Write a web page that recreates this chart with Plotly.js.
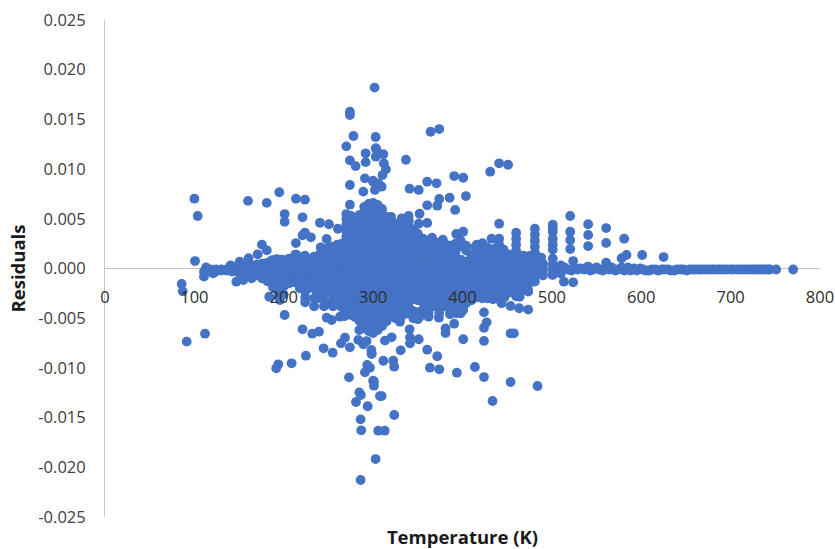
<!DOCTYPE html>
<html><head><meta charset="utf-8">
<script src="https://cdn.plot.ly/plotly-3.0.1.min.js"></script>
<style>html,body{margin:0;padding:0;background:#fff}#chart{width:835px;height:549px}</style>
</head><body><div id="chart"></div>
<script>
const xTickVals = [0,100,200,300,400,500,600,700,800];
const xTickText = ['0','100','200','300','400','500','600','700','800'];
const yTickVals = [0.025,0.02,0.015,0.01,0.005,0,-0.005,-0.01,-0.015,-0.02,-0.025];
const yTickText = ['0.025','0.020','0.015','0.010','0.005','0.000','-0.005','-0.010','-0.015','-0.020','-0.025'];

// isolated points above zero
const upperT = [100,103.7,100.7,113,160,181,195,201,201,213.6,223.7,221,240.5,250.6,260.6,223.7,221,230.4,213.6,248,175.6,181,170.8,160.7,150.7,140.6,212.9,223.7,241.3,187,192,198,
 301.6,274,274,278,302.8,270,274,280.4,291.6,291.6,303,303,290.8,299.8,274,289,274,270,303.5,311.4,312,314.3,310.5,300,305.7,309.5,302,
 364.3,374,336.7,360.5,371,340.8,351,390.7,400.8,431,441,451,374,371.7,360.5,385.6,403.8,391.8,352,351,360.5,339.7,332,441,
 520.5,520.5,520.5,520.5,540.6,540.6,540.6,560.7,560.7,580.9,601,583.5,578,560.7,540.6,523.8,393,400.8,432.5,422.4,414,475,625];
const upperR = [.00702,.00528,.00075,.0001,.0068,.0066,.00767,.00548,.0047,.00702,.00692,.00515,.0046,.00445,.004,.0036,.00334,.00314,.00256,.00297,.0024,.00183,.00143,.00103,.00068,.00032,.00139,.00129,.00213,.00085,.00095,.0009,
 .0182,.01577,.01544,.01333,.01323,.01229,.01088,.0103,.01159,.0107,.0121,.01125,.00907,.00883,.0084,.00773,.00642,.00548,.012,.0115,.01058,.00998,.0094,.00873,.00857,.00823,.0079,
 .01376,.01403,.01094,.00873,.00857,.00803,.0079,.0093,.00913,.00974,.01058,.01044,.007,.00632,.00636,.00712,.00729,.00589,.00551,.00451,.00458,.00528,.00505,.00451,
 .00528,.0037,.00287,.00196,.00445,.00337,.00226,.00407,.00257,.003,.00136,.00136,.00103,.00058,.00018,.00075,.00347,.0037,.003,.00254,.00213,.00126,.00115];

// isolated points below zero
const lowerT = [85.8,87,91.4,111.9,110.7,110.7,121,147,154.7,164,183.8,195.7,201,221,231.9,239.4,262.9,253.6,248,244.6,254.7,224.8,208.8,193.9,191.6,264,268.5,274,283.4,289,292.7,284.5,298.3,298,293.4,296.4,290.8,273,300.9,300.9,284.5,286.3,280.8,293.9,286,286.7,305.7,302.8,286,307.6,
 483.9,433.6,453.8,424,413.9,393.7,374,363.5,371.7,360.5,330.8,351,341.2,341.2,340.8,320.7,313.2,311.4,322.5,323.6,300,309.5,323.6,313,298.3,400.8,424,453.8,457.5,424,427,424,381,381,390.7,373.6,473.5,463.4,453.8,443.7,523.8,513.4,500.8,473.5,464,479,400.8,393.3,330,352,362];
const lowerR = [-.00156,-.0023,-.00736,-.00656,-.00082,-.00032,-.00048,-.00133,-.00116,-.00099,-.00284,-.00317,-.00468,-.00612,-.00656,-.00636,-.00485,-.00518,-.00495,-.00803,-.00847,-.00877,-.00954,-.00964,-.01004,-.00753,-.00696,-.00793,-.00719,-.00763,-.0073,-.00619,-.00853,-.0082,-.0097,-.00998,-.01045,-.01095,-.01139,-.01179,-.01246,-.01273,-.01343,-.01386,-.01518,-.01628,-.01632,-.01917,-.02128,-.01283,
 -.01182,-.01333,-.01142,-.01092,-.00991,-.01048,-.01014,-.00998,-.00883,-.00817,-.00823,-.00712,-.00753,-.00693,-.00612,-.00692,-.00726,-.00928,-.00928,-.00988,-.01129,-.01283,-.01474,-.01632,-.0086,-.00712,-.00729,-.00652,-.00652,-.00596,-.00541,-.00441,-.00602,-.0065,-.00555,-.00495,-.00414,-.004,-.00377,-.0035,-.00139,-.00133,-.00065,-.00233,-.00284,-.00133,-.00417,-.0045,-.00535,-.00485,-.00485];

// cool wing columns: temperature, then residuals in thousandths
const wingColumns = [
 [118,-.1,-.3],[124,-.1,-.3],[130,-.1,-.2],[136,-.1,-.2],[142,.0,-.3],[148,.1,-.3],[152,.2,-.3,-.7],[158,.3,-.2,-.7],[164,.3,-.2,-.8],[170,.4,-.1,-.7],
 [176,.5,.0,-.6,-1.0],[182,.6,.1,-.4,-.9,-1.3],[188,.8,.3,-.2,-.7,-1.2,-1.9],[194,.9,.4,-.1,-.6,-1.1,-1.6,-2.3,-2.8],[200,.8,.3,-.2,-.7,-1.2,-1.8,-2.6],[206,.5,.0,-.5,-1.0,-1.5],
 [212,1.0,.5,.1,-.4,-.9,-1.4],[218,1.0,.5,.0,-.5,-1.0,-1.6,-2.0],[224,1.1,.6,.0,-.5,-1.0,-1.6,-2.3,-2.9,-3.4],[230,.9,.3,-.3,-.9,-1.5],[234,1.2,.6,.0,-.6,-1.2,-1.8,-3.0,-3.8],
 [240,1.4,.8,.2,-.4,-1.0,-1.6,-2.2,-3.0],[245,1.9,1.3,.6,.0,-.6,-1.2,-1.8,-2.5,-3.2,-3.8],[250,2.1,1.4,.7,.1,-.5,-1.7,-2.3,-3.4],[255,2.2,1.5,.8,.2,-.4,-1.0,-1.6,-2.3,-3.0,-3.8],[260,2.4,1.8,1.1,.4,-.2,-.8,-1.4,-2.0,-3.6]
];

// dense core columns
const coreColumns = [
 [265,2.5,1.9,1.3,.7,.0,-.7,-1.4,-2.1,-3.2,-3.9],
 [270,5.0,4.4,3.8,3.2,2.5,1.8,1.1,.4,-.3,-1.0,-1.7,-2.4,-3.1,-3.8,-4.4],
 [275,5.3,4.7,4.0,3.4,2.8,2.1,1.4,.7,.0,-.7,-1.4,-2.1,-2.8,-3.5,-4.2],
 [280,5.0,4.4,3.8,3.2,2.5,1.8,1.1,.4,-.3,-1.0,-1.7,-2.4,-3.1,-3.8,-4.4],
 [285,5.4,4.8,4.1,3.5,2.9,2.2,1.5,.8,.1,-.6,-1.3,-2.0,-2.7,-3.4,-4.1,-4.6,-5.3],
 [290,6.2,5.6,5.0,4.4,3.8,3.1,2.4,1.7,1.0,.3,-.4,-1.1,-1.8,-2.5,-3.2,-3.9,-4.6,-5.3,-6.0],
 [295,6.5,5.9,5.3,4.7,4.0,3.3,2.6,1.9,1.2,.5,-.2,-.9,-1.6,-2.3,-3.0,-3.7,-4.4,-5.1,-5.8,-6.3],
 [300,6.6,6.0,5.4,4.8,4.1,3.4,2.7,2.0,1.3,.6,-.1,-.8,-1.5,-2.2,-2.9,-3.6,-4.3,-5.0,-5.7,-6.5],
 [305,6.4,5.8,5.2,4.6,4.0,3.3,2.6,1.9,1.2,.5,-.2,-.9,-1.6,-2.3,-3.0,-3.7,-4.4,-5.1,-5.8,-6.2],
 [310,6.0,5.5,4.9,4.3,3.7,3.0,2.3,1.6,.9,.2,-.5,-1.2,-1.9,-2.6,-3.3,-4.0,-4.7,-5.4,-5.8],
 [315,5.2,4.7,4.1,3.5,2.8,2.1,1.4,.7,.0,-.7,-1.4,-2.1,-2.8,-3.5,-4.2,-4.9,-5.3],
 [320,4.8,4.2,3.6,3.0,2.4,1.7,1.0,.3,-.4,-1.1,-1.8,-2.5,-3.2,-3.9,-4.6],
 [325,4.1,3.6,3.0,2.3,1.6,.9,.2,-.5,-1.2,-1.9,-2.6,-3.3,-4.0,-4.5],
 [330,3.9,3.4,2.9,2.2,1.5,.8,.1,-.6,-1.3,-2.0,-2.7,-3.4,-4.1,-4.6],
 [335,4.6,4.0,3.4,2.8,2.1,1.4,.7,.0,-.7,-1.4,-2.1,-2.8,-3.5,-4.2,-4.6],
 [340,4.8,4.2,3.6,3.0,2.4,1.7,1.0,.3,-.4,-1.1,-1.8,-2.5,-3.2,-3.9,-4.5],
 [345,3.9,3.3,2.7,1.8,1.1,.4,-.3,-1.0,-1.7,-2.4,-3.1,-4.3],
 [350,3.5,2.9,2.3,1.6,.9,.2,-.5,-1.2,-1.9,-2.6,-3.2,-4.4],
 [356,3.0,2.5,2.0,1.3,.6,-.1,-.8,-1.5,-2.2,-2.9,-3.4,-4.1,-4.5],
 [362,2.8,2.3,1.8,1.1,.4,-.3,-1.0,-1.7,-2.4,-3.1,-3.7,-4.4],
 [368,2.6,2.1,1.6,.9,.2,-.5,-1.2,-1.9,-2.6,-3.3,-3.8],
 [374,2.6,2.1,1.5,.9,.2,-.5,-1.2,-1.9,-2.6,-3.3,-3.9],
 [380,2.5,2.0,1.4,.8,.1,-.6,-1.3,-2.0,-2.7,-3.4,-3.8],
 [386,2.3,1.8,1.2,.5,-.2,-.9,-1.6,-2.3,-3.0,-3.7,-4.2],
 [392,1.6,1.1,.5,.1,-.6,-1.3,-2.0,-2.7,-3.4,-3.9],
 [398,2.8,2.2,.9,.4,-.3,-1.0,-1.7,-2.4,-3.1,-3.6,-4.1],
 [404,2.3,1.8,.7,.3,-.2,-.9,-1.6,-2.3,-3.0,-3.5],
 [410,.5,.1,-.4,-1.0,-1.6,-2.2,-2.9,-3.2],
 [416,1.9,1.4,.9,.2,-.5,-1.2,-1.9,-2.6,-2.9],
 [422,2.1,1.6,1.1,.4,-.3,-1.0,-1.7,-2.4,-3.0],
 [428,1.6,1.0,.4,-.3,-1.0,-1.7,-2.4,-3.0],
 [434,1.3,.8,.1,-.6,-1.3,-2.0,-2.7,-3.1],
 [441,3.0,2.4,1.8,1.2,.6,.0,-.7,-1.4,-2.1,-2.8,-3.1],
 [447,.5,.1,-.4,-.9,-1.6,-2.3,-2.9],
 [453,.6,.2,-.3,-1.0,-1.7,-2.4],
 [460,3.6,3.0,2.4,1.8,1.2,.6,.0,-.7,-1.4,-2.1,-2.8],
 [466,.7,.3,-.3,-1.0,-1.7,-2.3],
 [473,1.0,.5,.0,-.6,-1.3,-2.0],
 [481,4.0,3.4,2.8,2.2,1.6,1.0,.4,-.2,-.8,-1.3],
 [490,.5,.1,-.3,-.7],
 [501,4.4,4.1,3.7,3.0,2.4,1.9,1.0,.4,-.1,-.6],
 [510,.3,-.1,-.5]
];

// extra points on the edge of the dense region
const fringeT = [325,330,345,350,362,374,386,398,410,428,447,453,228,236,265,280,276,268,241,258,320,326,366,378,392,416,436,446,206,214,468,488];
const fringeR = [-.0050,-.0051,-.0050,-.0051,-.0048,-.0045,-.0046,-.0045,.0013,.0021,.0013,.0014,-.0020,-.0022,-.0027,-.0049,-.0047,-.0048,-.0027,-.0026,.0052,.0045,.0031,.0029,.0025,.0024,.0020,.0019,.0010,.0014,.0013,.0011];

// hot tail along zero
const bandT = [514,518,522,525,529,532,536,539,543,546,550,553,557,560,564,567,571,574,578,581,585,588,592,595,599,602,605,609,612,616,619,623,626,630,633,637,640,644,647,651,654,658,661,665,668,672,675,679,682,686,689,693,696,700,703,707,710,714,717,721,724,727,730,733,736,739,742,744,751,770];
const bandR = [.0001,-.0001,-.0002,.0001,-.0001,.0000,-.0001,.0001,-.0002,-.0001,.0001,-.0001,-.0002,.0001,-.0001,.0001,-.0002,-.0001,.0001,-.0002,.0001,-.0002,.0000,-.0002,.0000,-.0001,-.0002,-.0002,-.0001,-.0001,-.0002,-.0001,-.0001,-.0001,-.0002,-.0002,-.0001,-.0001,-.0001,-.0002,-.0001,-.0001,-.0001,-.0001,-.0001,-.0001,-.0001,-.0001,-.0001,-.0001,-.0001,-.0001,-.0001,-.0001,-.0001,-.0001,-.0001,-.0001,-.0001,-.0001,-.0001,-.0001,-.0001,-.0001,-.0001,-.0001,-.0001,-.0001,-.0001,-.0001];

const temperature = [], residual = [];
function addColumns(cols){ cols.forEach(c => c.slice(1).forEach(v => { temperature.push(c[0]); residual.push(v/1000); })); }
addColumns(wingColumns); addColumns(coreColumns);
temperature.push(...upperT, ...lowerT, ...fringeT, ...bandT);
residual.push(...upperR, ...lowerR, ...fringeR, ...bandR);

const fontFam = '"Open Sans", sans-serif';
Plotly.newPlot('chart',[{
  type:'scatter', mode:'markers', x:temperature, y:residual,
  marker:{color:'#4472C4', size:9.8, line:{width:0}}, hoverinfo:'skip', cliponaxis:false
}],{
  width:835, height:549, showlegend:false,
  paper_bgcolor:'#fff', plot_bgcolor:'#fff',
  margin:{l:105,r:15,t:20,b:32,autoexpand:false},
  xaxis:{range:[0,800], tickmode:'array', tickvals:xTickVals, ticktext:xTickText,
    showgrid:false, zeroline:false, showline:false, ticks:'', ticklabelstandoff:-232,
    tickfont:{family:fontFam,size:16.5,color:'#2e2e2e'},
    title:{text:'<b>Temperature (K)</b>', font:{family:fontFam,size:18.5,color:'#1a1a1a'}, standoff:224}},
  yaxis:{range:[-0.025,0.025], tickmode:'array', tickvals:yTickVals, ticktext:yTickText,
    showgrid:false, showline:true, linecolor:'#c8c8c8', linewidth:1, ticks:'', ticklabelstandoff:15,
    zeroline:true, zerolinecolor:'#bfbfbf', zerolinewidth:1,
    tickfont:{family:fontFam,size:16.5,color:'#404040'},
    title:{text:'<b>Residuals</b>', font:{family:fontFam,size:18.5,color:'#1a1a1a'}, standoff:7}}
},{displayModeBar:false,staticPlot:true});
</script></body></html>
